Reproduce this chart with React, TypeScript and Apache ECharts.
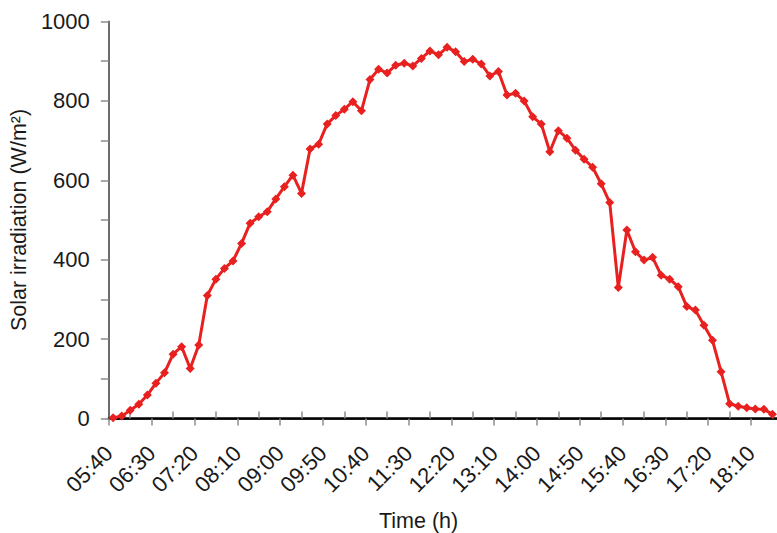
import React, { useEffect, useRef } from "react";
import * as echarts from "echarts";

// Time stamps (10-minute steps) of the measurements
const times = [
  "05:40", "05:50", "06:00", "06:10", "06:20", "06:30", "06:40", "06:50", "07:00", "07:10",
  "07:20", "07:30", "07:40", "07:50", "08:00", "08:10", "08:20", "08:30", "08:40", "08:50",
  "09:00", "09:10", "09:20", "09:30", "09:40", "09:50", "10:00", "10:10", "10:20", "10:30",
  "10:40", "10:50", "11:00", "11:10", "11:20", "11:30", "11:40", "11:50", "12:00", "12:10",
  "12:20", "12:30", "12:40", "12:50", "13:00", "13:10", "13:20", "13:30", "13:40", "13:50",
  "14:00", "14:10", "14:20", "14:30", "14:40", "14:50", "15:00", "15:10", "15:20", "15:30",
  "15:40", "15:50", "16:00", "16:10", "16:20", "16:30", "16:40", "16:50", "17:00", "17:10",
  "17:20", "17:30", "17:40", "17:50", "18:00", "18:10", "18:20", "18:30",
];

// Solar irradiation (W/m2)
const irradiance = [
  2, 6, 21, 36, 59, 89, 115, 162, 181, 126,
  185, 310, 351, 378, 397, 441, 492, 508, 521, 553,
  584, 613, 567, 679, 691, 742, 763, 779, 798, 775,
  854, 880, 870, 890, 895, 888, 907, 926, 916, 935,
  924, 899, 905, 893, 863, 874, 815, 819, 800, 760,
  742, 672, 725, 706, 676, 653, 633, 591, 544, 330,
  475, 420, 399, 406, 361, 351, 332, 282, 273, 235,
  197, 118, 37, 31, 27, 24, 23, 11,
];

// Labelled ticks on the time axis (every 5th category)
const tickLabels = [
  "05:40", "06:30", "07:20", "08:10", "09:00", "09:50", "10:40", "11:30",
  "12:20", "13:10", "14:00", "14:50", "15:40", "16:30", "17:20", "18:10",
];

const yTickLabels = [0, 200, 400, 600, 800, 1000];

const FONT = "Liberation Sans, Arial, sans-serif";
const CHART_W = 810;

export default function App() {
  const ref = useRef<HTMLDivElement>(null);

  useEffect(() => {
    if (!ref.current) return;
    const chart = echarts.init(ref.current, null, { renderer: "svg" });
    const xMax = 80;
    const step = 8.573;
    chart.setOption({
      animation: false,
      backgroundColor: "#ffffff",
      title: {
        text: "Time (h)",
        left: 374,
        top: 505,
        textStyle: { fontSize: 21.5, fontWeight: "normal", color: "#1a1a1a", fontFamily: FONT },
      },
      grid: { left: 108, top: 21.5, right: CHART_W - 108 - xMax * step, bottom: 114.5 },
      xAxis: [
        {
          type: "value",
          min: 0,
          max: xMax,
          interval: 5,
          axisLine: { show: true, onZero: false, lineStyle: { color: "#6b6b6b", width: 2 } },
          axisTick: { show: true, inside: false, length: 7, lineStyle: { color: "#8c8c8c", width: 1.5 } },
          minorTick: { show: true, splitNumber: 2, length: -7, lineStyle: { color: "#8c8c8c", width: 1.5 } },
          splitLine: { show: false },
          minorSplitLine: { show: false },
          axisLabel: {
            rotate: 45,
            margin: 31,
            fontSize: 22,
            color: "#1a1a1a",
            fontFamily: FONT,
            showMaxLabel: false,
            formatter: (v: number) => {
              const k = Math.round(v / 5);
              return Math.abs(v - k * 5) < 1e-6 && k < tickLabels.length ? tickLabels[k] : "";
            },
          },
        },
        {
          type: "value",
          position: "top",
          min: 0,
          max: xMax,
          axisLine: { show: true, lineStyle: { color: "#000000", width: 2.5 } },
          axisTick: { show: false },
          axisLabel: { show: false },
          splitLine: { show: false },
        },
      ],
      yAxis: {
        type: "value",
        min: 0,
        max: 1000,
        interval: 100,
        name: "Solar irradiation (W/m²)",
        nameLocation: "middle",
        nameRotate: 90,
        nameGap: 76,
        nameTextStyle: { fontSize: 21.5, color: "#1a1a1a", fontFamily: FONT },
        axisLine: { show: true, lineStyle: { color: "#6b6b6b", width: 2 } },
        axisTick: { show: true, length: 8, lineStyle: { color: "#8c8c8c", width: 1.5 } },
        splitLine: { show: false },
        axisLabel: {
          margin: 19,
          fontSize: 22,
          color: "#1a1a1a",
          fontFamily: FONT,
          formatter: (v: number) => (yTickLabels.includes(v) ? String(v) : ""),
        },
      },
      series: [
        {
          type: "line",
          xAxisIndex: 0,
          data: irradiance.map((v, i) => [i + 0.5, v, times[i]]),
          symbol: "diamond",
          symbolSize: 9,
          lineStyle: { color: "#e8201f", width: 3 },
          itemStyle: { color: "#e8201f" },
          clip: false,
        },
      ],
    });
    return () => chart.dispose();
  }, []);

  return (
    <div style={{ position: "absolute", left: 0, top: 0, width: 777, height: 533, overflow: "hidden", background: "#fff" }}>
      <div ref={ref} style={{ width: CHART_W, height: 533 }} />
    </div>
  );
}
